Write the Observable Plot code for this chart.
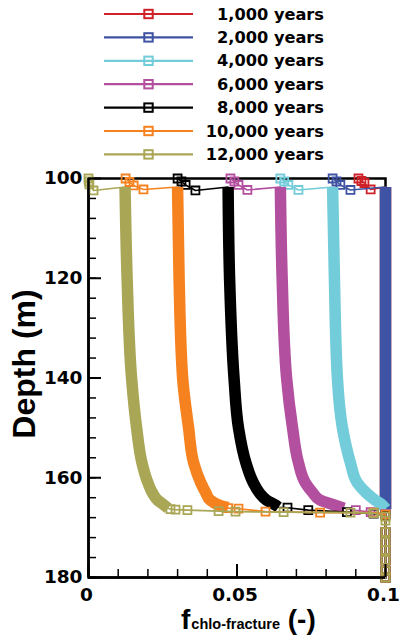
<!DOCTYPE html>
<html>
<head>
<meta charset="utf-8">
<script src="https://cdn.jsdelivr.net/npm/d3@7"></script>
<script src="https://cdn.jsdelivr.net/npm/@observablehq/plot@0.6"></script>
<style>
  body { margin: 0; background: #fff; }
  #chart { width: 399px; height: 636px; position: relative; overflow: hidden; }
  svg { display: block; }
</style>
</head>
<body>
<div id="chart"></div>
<script>
// Chlorite fraction in the fracture vs depth, at several times
const seriesLabels = ["1,000 years", "2,000 years", "4,000 years", "6,000 years", "8,000 years", "10,000 years", "12,000 years"];
const seriesColors = ["#cf2128", "#3e53a3", "#72ccd9", "#b34f9f", "#000000", "#f5821f", "#a9a656"];

// Each profile: [depth (m), f] pairs.
// top*: coarse points near the inlet, band*: densely sampled body, bottom*: coarse points to the base
const top1000 = [[100, 0.0909], [100.5, 0.0919], [100.9, 0.0929], [102.2, 0.0950]];
const band1000 = [[101.7, 0.1], [120, 0.1], [140, 0.1], [166.3, 0.1]];
const bottom1000 = [[167.3, 0.1], [170.9, 0.1], [172.9, 0.1], [174.5, 0.1], [176.5, 0.1], [178.6, 0.1], [180, 0.1]];

const top2000 = [[100, 0.0822], [100.6, 0.0835], [101.3, 0.0848], [102.3, 0.0882]];
const band2000 = [[101.7, 0.1], [120, 0.1], [140, 0.1], [160, 0.1], [166.3, 0.1]];
const bottom2000 = [[167.3, 0.1], [170.9, 0.1], [172.9, 0.1], [174.5, 0.1], [176.5, 0.1], [178.6, 0.1], [180, 0.1]];

const top4000 = [[100, 0.0646], [100.6, 0.0659], [101.3, 0.0673], [102.3, 0.0707]];
const band4000 = [[101.7, 0.0822], [120, 0.0828], [140, 0.0838], [150, 0.0855], [157, 0.0882], [161, 0.0905], [163, 0.0935], [164.5, 0.0965], [165.5, 0.0990], [166.2, 0.1]];
const bottom4000 = [[167.3, 0.1], [170.9, 0.1], [172.9, 0.1], [174.5, 0.1], [176.5, 0.1], [178.6, 0.1], [180, 0.1]];

const top6000 = [[100, 0.0478], [100.6, 0.0491], [101.3, 0.0505], [102.3, 0.0535]];
const band6000 = [[101.7, 0.0646], [120, 0.0652], [140, 0.0667], [150, 0.0687], [157, 0.0707], [161, 0.0730], [163, 0.0755], [164.5, 0.0780], [165.5, 0.0830], [166.1, 0.0860]];
const bottom6000 = [[166.5, 0.0900], [166.9, 0.0950], [167.3, 0.1], [170.9, 0.1], [172.9, 0.1], [174.5, 0.1], [176.5, 0.1], [178.6, 0.1], [180, 0.1]];

const top8000 = [[100, 0.0300], [100.6, 0.0313], [101.3, 0.0327], [102.4, 0.0360]];
const band8000 = [[101.7, 0.0470], [120, 0.0475], [140, 0.0490], [150, 0.0505], [157, 0.0530], [161, 0.0555], [163, 0.0575], [164.5, 0.0600], [165.5, 0.0630], [165.9, 0.0640]];
const bottom8000 = [[166.0, 0.0670], [166.5, 0.0740], [166.9, 0.0870], [167.2, 0.0960], [167.5, 0.1], [170.9, 0.1], [172.9, 0.1], [174.5, 0.1], [176.5, 0.1], [178.6, 0.1], [180, 0.1]];

const top10000 = [[100, 0.0125], [100.7, 0.0138], [101.4, 0.0152], [102.2, 0.0185]];
const band10000 = [[101.7, 0.0300], [120, 0.0305], [140, 0.0317], [150, 0.0337], [157, 0.0354], [161, 0.0378], [163, 0.0395], [164.5, 0.0410], [165.6, 0.0445], [166.0, 0.0470]];
const bottom10000 = [[166.1, 0.0470], [166.2, 0.0505], [166.8, 0.0596], [167.0, 0.0780], [167.0, 0.0960], [167.4, 0.1], [170.9, 0.1], [172.9, 0.1], [174.5, 0.1], [176.5, 0.1], [178.6, 0.1], [180, 0.1]];

const top12000 = [[100, 0.0], [100.6, 0.0001], [101.2, 0.0003], [102.4, 0.0017]];
const band12000 = [[101.7, 0.0123], [120, 0.0130], [140, 0.0145], [150, 0.0162], [157, 0.0180], [161, 0.0200], [163, 0.0215], [164.5, 0.0233], [165.5, 0.0255], [166.1, 0.0268]];
const bottom12000 = [[166.3, 0.0276], [166.4, 0.0293], [166.5, 0.0333], [166.7, 0.0438], [166.8, 0.0495], [166.9, 0.0657], [167.0, 0.0882], [167.1, 0.0960], [167.8, 0.1], [168.6, 0.1], [170.9, 0.1], [172.9, 0.1], [174.5, 0.1], [176.5, 0.1], [178.6, 0.1], [180, 0.1]];

const tops = [top1000, top2000, top4000, top6000, top8000, top10000, top12000];
const bands = [band1000, band2000, band4000, band6000, band8000, band10000, band12000];
const bottoms = [bottom1000, bottom2000, bottom4000, bottom6000, bottom8000, bottom10000, bottom12000];

// Axis ticks
const xMajorTicks = [0, 0.05, 0.1];
const xTickLabels = ["0", "0.05", "0.1"];
const xMinorTicks = [0, 0.01, 0.02, 0.03, 0.04, 0.05, 0.06, 0.07, 0.08, 0.09, 0.1];
const yMajorTicks = [100, 120, 140, 160, 180];
const yMinorTicks = [100, 104, 108, 112, 116, 120, 124, 128, 132, 136, 140, 144, 148, 152, 156, 160, 164, 168, 172, 176, 180];

const W = 399;
const FONT = "'DejaVu Sans', sans-serif";
const SANS = "'Liberation Sans', Arial, sans-serif";
const chart = d3.select("#chart");

// ---- Legend (above the plot) ----
const legendH = 168;
const legend = chart.append("svg").attr("width", W).attr("height", legendH);
seriesLabels.forEach((lab, i) => {
  const y = 14 + i * 23.4;
  const g = legend.append("g");
  g.append("line").attr("x1", 104).attr("x2", 193).attr("y1", y).attr("y2", y)
    .attr("stroke", seriesColors[i]).attr("stroke-width", 2.2);
  g.append("rect").attr("x", 148.5 - 4.2).attr("y", y - 4.2).attr("width", 8.4).attr("height", 8.4)
    .attr("fill", "none").attr("stroke", seriesColors[i]).attr("stroke-width", 2);
  g.append("text").attr("x", 324).attr("y", y).attr("text-anchor", "end")
    .attr("dominant-baseline", "central")
    .attr("font-family", FONT).attr("font-weight", "bold").attr("font-size", 16.2)
    .attr("fill", "#000").text(lab);
});

// ---- Plot ----
const rows = (arr, s) => arr.map(([depth, f]) => ({s, depth, f}));
const seriesMarks = [];
seriesLabels.forEach((_, s) => {
  const all = rows([...tops[s], ...bands[s], ...bottoms[s]], s);
  const band = rows(bands[s], s);
  const marked = rows([...tops[s], ...bottoms[s]], s);
  const c = seriesColors[s];
  seriesMarks.push(
    Plot.line(all, {x: "f", y: "depth", stroke: c, strokeWidth: 1.6}),
    Plot.line(band, {x: "f", y: "depth", stroke: c, strokeWidth: 11.5, strokeLinejoin: "round", strokeLinecap: "butt", curve: "monotone-y"}),
    Plot.dot(marked, {x: "f", y: "depth", symbol: "square", r: 4.5, fill: "none", stroke: c, strokeWidth: 1.8})
  );
});

const plotH = 636 - legendH;
const plot = Plot.plot({
  width: W,
  height: plotH,
  marginTop: 10,
  marginBottom: 59,
  marginLeft: 88,
  marginRight: 14,
  style: {fontFamily: FONT, fontWeight: "bold", fontSize: "18.5px", color: "#000", background: "#fff", overflow: "visible"},
  x: {domain: [0, 0.1]},
  y: {domain: [100, 180], reverse: true},
  marks: [
    Plot.frame({stroke: "#000", strokeWidth: 2.5}),
    ...seriesMarks,
    // inward ticks: drawn outward, then shifted into the frame
    Plot.axisX({ticks: xMinorTicks, tickSize: 8, dy: -8, tickFormat: () => "", label: null, strokeWidth: 1.5}),
    Plot.axisX({ticks: xMajorTicks, tickSize: 13, dy: -13, tickFormat: () => "", label: null, strokeWidth: 2}),
    Plot.axisX({ticks: xMajorTicks, tickSize: 0, tickPadding: 10, dx: -2, tickFormat: (d, i) => xTickLabels[i], label: null}),
    Plot.axisY({ticks: yMinorTicks, tickSize: 8, dx: 8, tickFormat: () => "", label: null, strokeWidth: 1.5}),
    Plot.axisY({ticks: yMajorTicks, tickSize: 13, dx: 13, tickFormat: () => "", label: null, strokeWidth: 2}),
    Plot.axisY({ticks: yMajorTicks, tickSize: 0, tickPadding: 6, tickFormat: d => String(d), label: null}),
    // left and bottom axis lines stay above the profiles
    Plot.ruleX([0], {stroke: "#000", strokeWidth: 2.5}),
    Plot.ruleY([180], {stroke: "#000", strokeWidth: 2.5})
  ]
});
chart.node().appendChild(plot);

// Axis titles
const svg = d3.select(plot);
svg.append("text")
  .attr("transform", `translate(24, ${364 - legendH}) rotate(-90)`)
  .attr("text-anchor", "middle").attr("dominant-baseline", "central")
  .attr("font-family", SANS).attr("font-weight", "bold").attr("font-size", 32)
  .attr("fill", "#000").text("Depth (m)");

const xt = svg.append("text")
  .attr("x", 181).attr("y", 629 - legendH)
  .attr("text-anchor", "start")
  .attr("font-family", SANS).attr("font-weight", "bold").attr("font-size", 28)
  .attr("fill", "#000");
xt.append("tspan").text("f");
xt.append("tspan").attr("font-size", 14.5).attr("dx", 1).text("chlo-fracture");
xt.append("tspan").text(" (-)");
</script>
</body>
</html>
